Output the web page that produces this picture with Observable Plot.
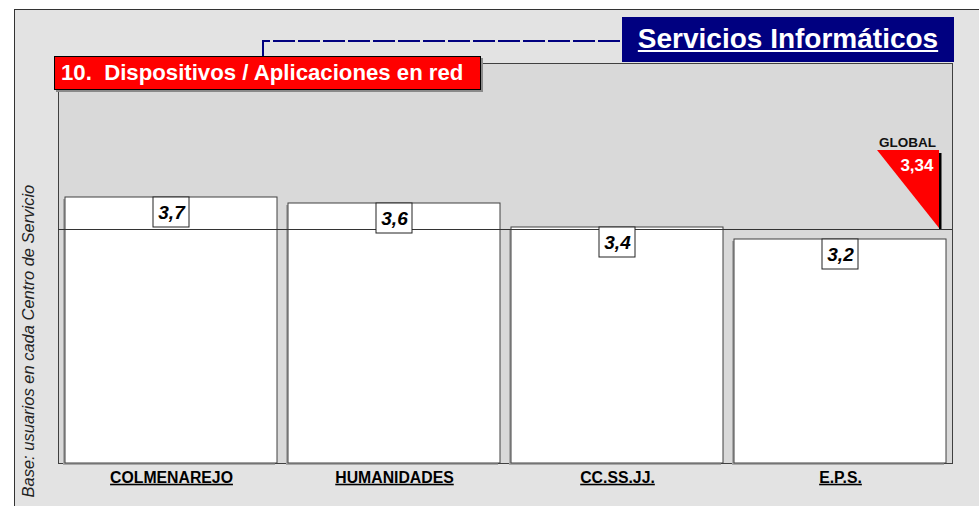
<!DOCTYPE html>
<html>
<head>
<meta charset="utf-8">
<script src="https://cdn.jsdelivr.net/npm/d3@7"></script>
<script src="https://cdn.jsdelivr.net/npm/@observablehq/plot@0.6"></script>
<style>
  html, body { margin: 0; padding: 0; background: #ffffff; }
  body { font-family: "Liberation Sans", Arial, sans-serif; }
  #wrap { position: relative; width: 979px; height: 506px; overflow: hidden; }
  #outer { position: absolute; left: 14px; top: 9px; width: 990px; height: 520px; background: #e3e3e3; border: 1px solid #333; box-sizing: border-box; }
  #chart { position: absolute; left: 0; top: 0; }
  #chart svg { overflow: visible; }
  #chart [aria-label="x-axis tick label"] text { text-decoration: underline; font-weight: bold; }
  #title { position: absolute; left: 622px; top: 17px; width: 332px; height: 45px; background: #000080; color: #fff;
    font-weight: bold; font-size: 28px; text-decoration: underline; text-align: center; line-height: 44px; }
  #subtitle { position: absolute; left: 54px; top: 56px; width: 427px; height: 34px; background: #ff0000; color: #fff;
    border: 1px solid #000; box-sizing: border-box; font-weight: bold; font-size: 22.2px; line-height: 32px; padding-left: 6px;
    white-space: pre; box-shadow: 2px 2px 0 #8a8a8a; }
  #connector { position: absolute; left: 0; top: 0; }
</style>
</head>
<body>
<div id="wrap">
  <div id="outer"></div>
  <div id="chart"></div>
  <svg id="connector" width="979" height="506">
    <path d="M263,56V41H622" fill="none" stroke="#000080" stroke-width="2" stroke-dasharray="22,3"></path>
  </svg>
  <div id="subtitle">10.  Dispositivos / Aplicaciones en red</div>
  <div id="title">Servicios Informáticos</div>
</div>
<script>
const categories = ["COLMENAREJO", "HUMANIDADES", "CC.SS.JJ.", "E.P.S."];
const values = [3.66, 3.60, 3.36, 3.24];
const globalValue = 3.34;
const globalLabel = "GLOBAL";
const yDomain = [1, 5];
const yTitle = "Base: usuarios en cada Centro de Servicio";

const data = categories.map((c, i) => ({cat: c, v: values[i]}));
const fmt1 = v => d3.format(".1f")(v).replace(".", ",");
const fmt2 = v => d3.format(".2f")(v).replace(".", ",");
const font = "Liberation Sans, Arial, sans-serif";

function globalMarker(index, scales, values, dimensions) {
  const y = scales.y(globalValue);
  const xr = dimensions.width - dimensions.marginRight - 13;
  const g = d3.create("svg:g");
  g.append("rect").attr("x", xr).attr("y", y - 76).attr("width", 2.5).attr("height", 76).attr("fill", "#000");
  g.append("path").attr("d", `M${xr - 62},${y - 79}L${xr},${y - 79}L${xr},${y - 1}Z`).attr("fill", "#ff0000");
  return g.node();
}

const chart = Plot.plot({
  width: 979,
  height: 506,
  marginLeft: 58,
  marginRight: 27,
  marginTop: 63,
  marginBottom: 43,
  style: {background: "transparent", fontFamily: font, color: "#000"},
  x: {domain: categories, paddingInner: 0.05, paddingOuter: 0.025, axis: null, label: null},
  y: {domain: yDomain, axis: null},
  marks: [
    Plot.frame({fill: "#d9d9d9", stroke: "#404040"}),
    Plot.barY(data, {x: "cat", y1: yDomain[0], y2: "v", fill: "#a8a8a8", dx: -2, dy: 2}),
    Plot.barY(data, {x: "cat", y1: yDomain[0], y2: "v", fill: "#ffffff", stroke: "#404040", strokeWidth: 1}),
    Plot.ruleY([globalValue], {stroke: "#333", strokeWidth: 1.2}),
    Plot.barY(data, {x: "cat", y1: d => d.v - 0.30, y2: "v", fill: "#ffffff", stroke: "#222", strokeWidth: 1, insetLeft: 88, insetRight: 88}),
    Plot.text(data, {x: "cat", y: "v", dy: 15, text: d => fmt1(d.v), fontWeight: "bold", fontStyle: "italic", fontSize: 19, fill: "#000"}),
    Plot.axisX({tickSize: 0, tickPadding: 8, fontSize: 15.8, fontWeight: "bold", fill: "#000", label: null}),
    globalMarker,
    Plot.text([globalValue], {y: d => d, frameAnchor: "right", dx: -45, dy: -87, text: () => globalLabel, fontWeight: "bold", fontSize: 13.5, fill: "#111", textAnchor: "middle"}),
    Plot.text([globalValue], {y: d => d, frameAnchor: "right", dx: -19, dy: -64, text: d => fmt2(d), fontWeight: "bold", fontSize: 17, fill: "#fff", textAnchor: "end"}),
    Plot.text([yTitle], {frameAnchor: "bottom-left", text: d => d, rotate: -90, textAnchor: "start", dx: -25, dy: 34, fontStyle: "italic", fontSize: 16.5, fill: "#222"})
  ]
});
document.getElementById("chart").appendChild(chart);
</script>
</body>
</html>
